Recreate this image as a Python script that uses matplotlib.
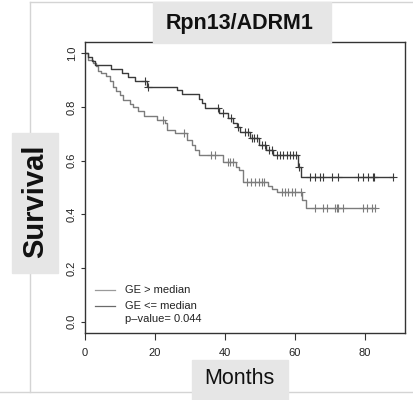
import numpy as np
import matplotlib
matplotlib.use("Agg")
import matplotlib.pyplot as plt
from matplotlib.patches import Rectangle
from matplotlib.lines import Line2D

plt.rcParams['font.family'] = ['Liberation Sans', 'DejaVu Sans']

# Kaplan-Meier steps: event times (months) and survival after each drop
low_times = [0.9, 2.3, 3.1, 3.7, 4.6, 6.0, 7.1, 8.0, 8.9, 10.0, 10.9, 12.9, 13.7,
             15.1, 16.9, 20.6, 22.9, 23.4, 25.7, 29.1, 30.6, 31.4, 32.6, 39.4,
             43.1, 44.0, 45.1, 52.3, 53.4, 54.9, 62.0, 63.1]
low_surv = [0.976, 0.964, 0.952, 0.933, 0.927, 0.914, 0.895, 0.873, 0.861, 0.845,
            0.825, 0.810, 0.800, 0.785, 0.768, 0.753, 0.739, 0.714, 0.702, 0.677,
            0.658, 0.640, 0.621, 0.596, 0.578, 0.565, 0.522, 0.507, 0.495, 0.482,
            0.455, 0.422]
low_cens = [22.3, 28.3, 36.0, 37.1, 40.9, 41.4, 42.3, 46.3, 47.4, 48.6, 49.7, 50.6,
            51.1, 56.3, 57.1, 58.0, 59.1, 60.0, 61.7, 65.7, 68.0, 69.1, 71.4, 72.0,
            72.3, 73.7, 79.4, 80.6, 82.0, 82.9]

high_times = [0.8, 2.0, 2.8, 7.3, 10.5, 12.3, 14.3, 17.6, 26.3, 27.8, 32.5, 33.4,
              34.2, 38.3, 40.9, 42.3, 43.4, 44.3, 47.1, 49.7, 51.7, 53.7, 60.9, 61.7]
high_surv = [0.985, 0.970, 0.956, 0.942, 0.928, 0.912, 0.895, 0.876, 0.864, 0.848,
             0.830, 0.815, 0.798, 0.777, 0.758, 0.740, 0.727, 0.708, 0.684, 0.658,
             0.640, 0.621, 0.578, 0.540]
high_cens = [17.2, 18.1, 37.9, 39.4, 41.7, 43.7, 45.7, 46.6, 47.7, 48.3, 49.1, 50.6,
             51.4, 52.6, 53.4, 54.9, 55.7, 56.6, 57.7, 58.6, 59.4, 60.3, 61.1, 64.3,
             65.7, 67.1, 68.0, 70.6, 72.3, 78.0, 79.4, 80.9, 82.3, 82.7, 88.0]

x_ticks = [0, 20, 40, 60, 80]
y_ticks = [0.0, 0.2, 0.4, 0.6, 0.8, 1.0]
p_text = "p\u2013value= 0.044"

W, H = 413, 400
fig = plt.figure(figsize=(W / 100, H / 100), dpi=100)


def fx(px):
    return px / W


def fy(py):
    return 1 - py / H


# light frame around the panel
frame_c = '#d4d4d4'
fig.add_artist(Line2D([fx(30), fx(413)], [fy(2), fy(2)], color=frame_c, lw=1, transform=fig.transFigure))
fig.add_artist(Line2D([fx(30), fx(30)], [fy(2), fy(392)], color=frame_c, lw=1, transform=fig.transFigure))
fig.add_artist(Line2D([fx(0), fx(413)], [fy(392), fy(392)], color=frame_c, lw=1, transform=fig.transFigure))

ax = fig.add_axes([fx(85), fy(333), (405 - 85) / W, (333 - 42) / H])


def km_curve(times, surv, cens, color):
    end = max(max(cens), times[-1])
    t = np.r_[0, times, end]
    s = np.r_[1.0, surv, surv[-1]]
    ax.step(t, s, where='post', color=color, lw=1.0)
    idx = np.searchsorted(times, cens, side='right')
    s_c = np.r_[1.0, surv][idx]
    ax.plot(cens, s_c, ls='none', marker='+', ms=5.5, mew=0.8, color=color)


km_curve(low_times, low_surv, low_cens, '#7c7c7c')
km_curve(high_times, high_surv, high_cens, '#3a3a3a')

ax.set_xlim(0, 91.43)
ax.set_ylim(-0.042, 1.042)
ax.set_xticks(x_ticks)
ax.set_yticks(y_ticks)
ax.set_xticklabels([str(v) for v in x_ticks], fontsize=8, color='#222222')
ax.set_yticklabels(['%.1f' % v for v in y_ticks], fontsize=8, color='#222222',
                   rotation=90, va='center')
ax.tick_params(axis='x', length=5, width=0.8, color='#333333', pad=6)
ax.tick_params(axis='y', length=3, width=0.8, color='#333333', pad=3)
for sp in ax.spines.values():
    sp.set_color('#333333')
    sp.set_linewidth(1.0)

# legend
ax.plot([0.031, 0.094], [0.148, 0.148], transform=ax.transAxes, color='#9a9a9a', lw=0.9)
ax.plot([0.031, 0.094], [0.093, 0.093], transform=ax.transAxes, color='#6a6a6a', lw=0.9)
ax.text(0.125, 0.148, "GE > median", transform=ax.transAxes, fontsize=8, va='center', color='#222222')
ax.text(0.125, 0.093, "GE <= median", transform=ax.transAxes, fontsize=8, va='center', color='#222222')
ax.text(0.125, 0.048, p_text, transform=ax.transAxes, fontsize=8, va='center', color='#222222')

# grey label boxes
box_c = '#e6e6e6'
fig.add_artist(Rectangle((fx(153), fy(43)), (331 - 153) / W, 41 / H, color=box_c, transform=fig.transFigure, zorder=5))
fig.add_artist(Rectangle((fx(12), fy(273)), 46 / W, 140 / H, color=box_c, transform=fig.transFigure, zorder=5))
fig.add_artist(Rectangle((fx(192), fy(400)), 96 / W, 40 / H, color=box_c, transform=fig.transFigure, zorder=5))

fig.text(fx(240), fy(23), "Rpn13/ADRM1", fontsize=15.5, fontweight='bold', ha='center', va='center',
         color='#111111', zorder=6)
fig.text(fx(35), fy(201), "Survival", fontsize=21, fontweight='bold', rotation=90, ha='center', va='center',
         color='#111111', zorder=6)
fig.text(fx(239), fy(379), "Months", fontsize=15.5, ha='center', va='center', color='#111111', zorder=6)

fig.savefig('out.png', dpi=100)
